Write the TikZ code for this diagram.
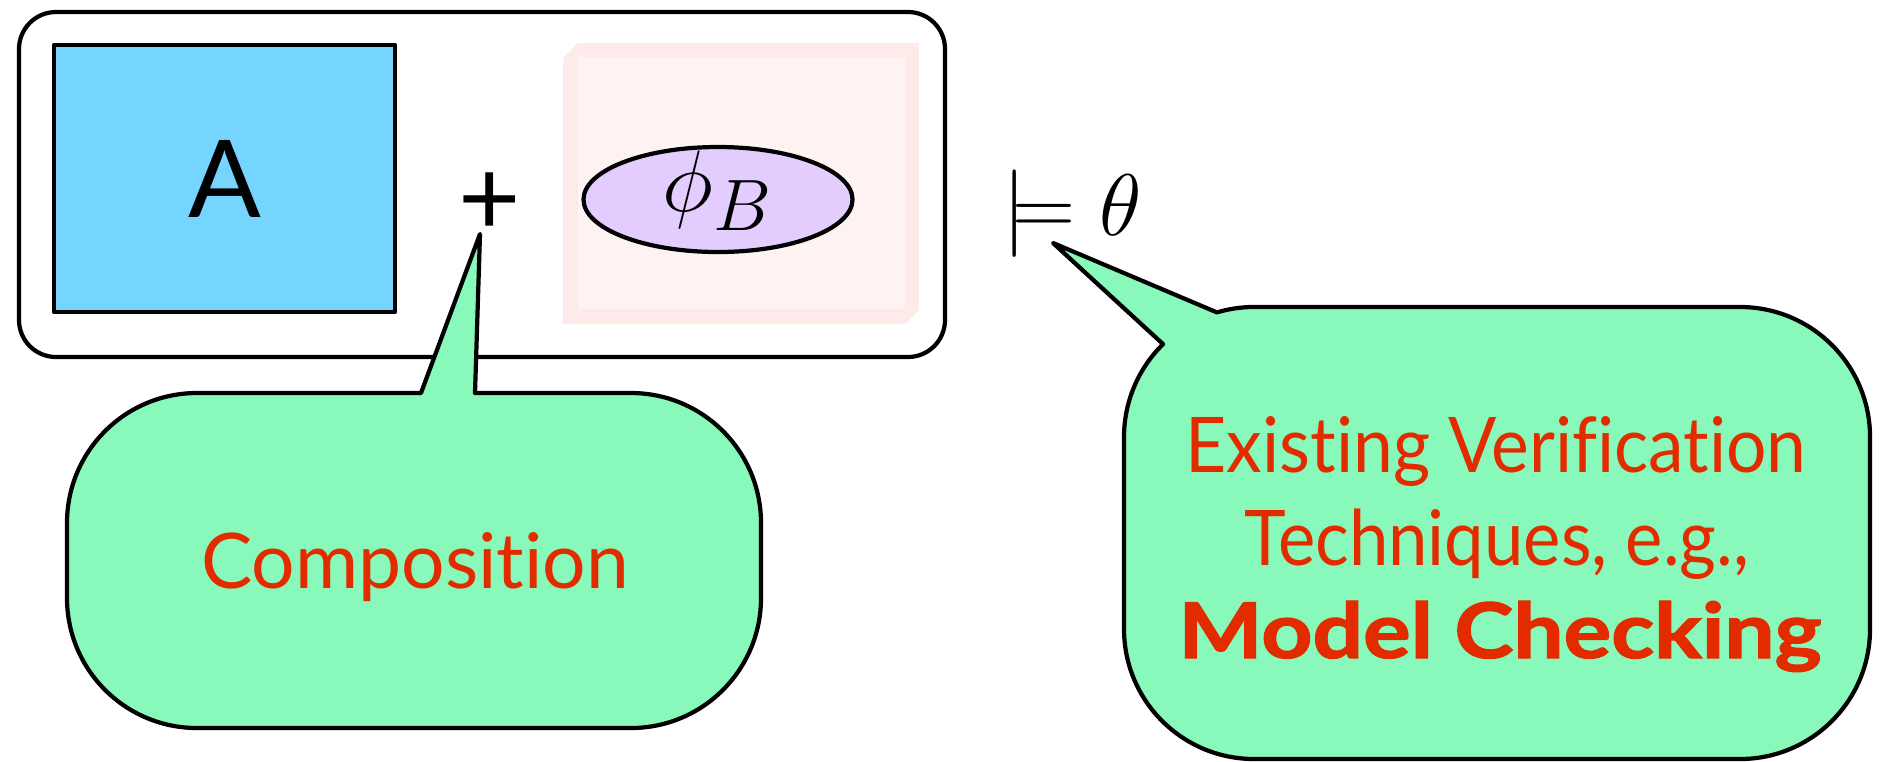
\documentclass[tikz,border=0pt]{standalone}
\usepackage{fontspec}
\setmainfont{Lato}[Ligatures=NoCommon]
\newfontfamily\heavyfont{Lato}[Ligatures=NoCommon, BoldFeatures={FakeBold=1.6}]
\usetikzlibrary{shapes.geometric}
\definecolor{mint}{HTML}{88F9BA}
\definecolor{skyb}{HTML}{75D5FF}
\definecolor{lav}{HTML}{E3CDFF}
\definecolor{redt}{HTML}{E32B00}
\definecolor{pinko}{HTML}{FEEAE9}
\definecolor{pinki}{HTML}{FEF3F2}
\tikzset{
  outline/.style={draw=black, line width=1.2pt, line join=round},
  bubble/.style={outline, fill=mint},
  bigsans/.style={inner sep=0pt, font=\fontsize{30.6pt}{36pt}\selectfont},
  redtext/.style={inner sep=0pt, anchor=base, text=redt, font=\fontsize{21.85pt}{26.5pt}\selectfont},
  mathtext/.style={inner sep=0pt, font=\fontsize{27.5pt}{32pt}\selectfont}
}
\begin{document}
\begin{tikzpicture}[x=0.1mm,y=0.1mm]
\useasboundingbox (0,0) rectangle (1890,-761);
% outer container
\node[outline, rounded corners=3.7mm, minimum width=92.6mm, minimum height=34.5mm, inner sep=0pt] (outer) at (482,-184.5) {};
% A box
\node[outline, fill=skyb, minimum width=34.1mm, minimum height=26.7mm, bigsans] (A) at (224.5,-178.5) {A};
% plus
\node[bigsans] (plus) at (490,-204) {+};
% pink B frame
\fill[pinko] (578,-43) -- (919,-43) -- (919,-310) -- (905,-324) -- (563,-324) -- (563,-58) -- cycle;
\fill[pinki] (578,-57) rectangle (905,-309);
% phi_B ellipse
\node[ellipse, outline, fill=lav, minimum width=26.9mm, minimum height=10.5mm, mathtext, text height=3mm, text depth=0.7mm] (phiB) at (718,-199.5) {$\phi_B$};
% models theta
\node[mathtext, anchor=base] (models) at (1072,-235) {$\models\theta$};
% Composition callout
\path[bubble] (421,-393) -- (480,-234) -- (475,-393) -- (631,-393) arc (90:0:130) -- (761,-598) arc (0:-90:130) -- (197,-728) arc (-90:-180:130) -- (67,-523) arc (180:90:130) -- cycle;
\node[redtext] (comp) at (415,-588) {Composition};
% Verification callout
\path[bubble] (1740,-307) arc (90:0:130) -- (1870,-629) arc (0:-90:130) -- (1254,-759) arc (-90:-180:130) -- (1124,-437) arc (180:134.4:130) -- (1053,-243) -- (1216.9,-312.4) arc (106.6:90:130) -- cycle;
\node[redtext, xscale=0.93] (l1) at (1496,-472) {Existing Verification};
\node[redtext, xscale=0.92] (l2) at (1497,-565) {Techniques, e.g.,};
\node[redtext, xscale=1.16] (l3) at (1500,-658) {\heavyfont\bfseries Model Checking};
\end{tikzpicture}
\end{document}
